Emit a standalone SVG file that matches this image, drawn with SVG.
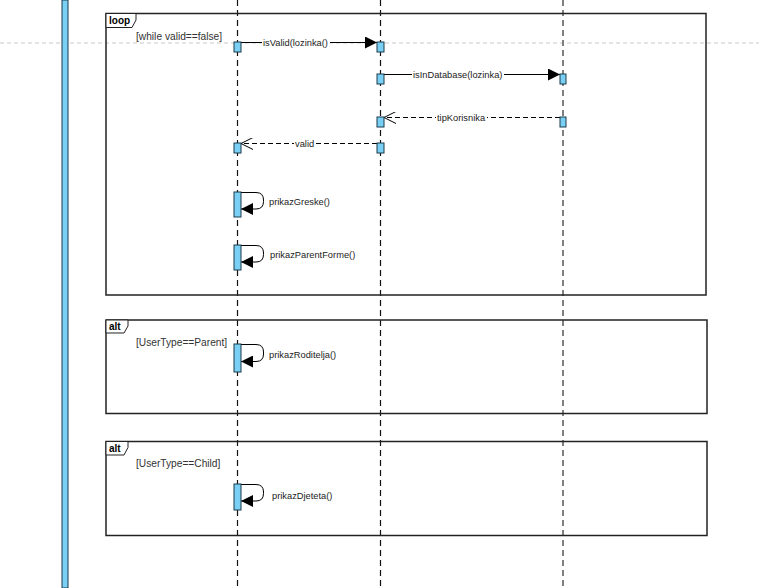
<svg xmlns="http://www.w3.org/2000/svg" width="759" height="588" viewBox="0 0 759 588">
<defs>
<style>
text{font-family:"Liberation Sans",Arial,sans-serif;font-size:9.3px;fill:#222}
.guard{font-size:10.2px;fill:#333}
.frame{fill:none;stroke:#222;stroke-width:1.5}
.tab{fill:#fff;stroke:#222;stroke-width:1}
.tabt{font-weight:bold;font-size:10px;fill:#000}
.act{fill:#7ACFF5;stroke:#1a3a4a;stroke-width:1}
.life{stroke:#111;stroke-width:1.2;stroke-dasharray:6,4;fill:none}
.msg{stroke:#000;stroke-width:1;fill:none}
.ret{stroke:#000;stroke-width:1;fill:none;stroke-dasharray:5,3}
.lbl{fill:#fff}
</style>
<marker id="fa" viewBox="0 0 12 12" refX="12" refY="6" markerWidth="12" markerHeight="12" markerUnits="userSpaceOnUse" orient="auto"><path d="M0,0 L12,6 L0,12 z" fill="#000"/></marker>
<marker id="oa" viewBox="0 0 12 12" refX="12" refY="6" markerWidth="12" markerHeight="12" markerUnits="userSpaceOnUse" orient="auto"><path d="M0,0 L12,6 L0,12" fill="none" stroke="#000" stroke-width="1"/></marker>
</defs>
<rect width="759" height="588" fill="#fff"/>
<line x1="0" y1="43" x2="759" y2="43" stroke="#c8c8c8" stroke-width="1" stroke-dasharray="4,3"/>
<g id="sidebar"><rect x="62" y="0" width="6" height="588" fill="#7ACFF5" stroke="#1a3a4a" stroke-width="1"/></g>
<g id="lifelines">
<line class="life" x1="237.5" y1="0" x2="237.5" y2="588"/>
<line class="life" x1="380.5" y1="0" x2="380.5" y2="588"/>
<line x1="563" y1="0" x2="563" y2="588" stroke="#808080" stroke-width="2" stroke-dasharray="6,4"/>
</g>
<g id="loop">
<rect class="frame" x="106" y="13.5" width="600" height="281.5"/>
<path class="tab" d="M106,13.5 H136 V20 L132,27.5 H106 Z"/>
<text class="tabt" x="109" y="24">loop</text>
<text class="guard" x="136" y="40">[while valid==false]</text>
</g>
<g id="alt1">
<rect class="frame" x="106" y="320" width="601" height="93.5"/>
<path class="tab" d="M106,320 H128 V326 L124,333 H106 Z"/>
<text class="tabt" x="109" y="330">alt</text>
<text class="guard" x="136" y="346">[UserType==Parent]</text>
</g>
<g id="alt2">
<rect class="frame" x="106" y="441.5" width="601" height="94"/>
<path class="tab" d="M106,441.5 H128 V447.5 L124,455 H106 Z"/>
<text class="tabt" x="109" y="452">alt</text>
<text class="guard" x="136" y="467">[UserType==Child]</text>
</g>
<g id="connectors">
<line class="msg" x1="241" y1="42.5" x2="377" y2="42.5" marker-end="url(#fa)"/>
<rect class="lbl" x="262" y="37" width="68" height="10"/>
<text x="263" y="46">isValid(lozinka()</text>
<line class="msg" x1="384" y1="74.5" x2="560" y2="74.5" marker-end="url(#fa)"/>
<rect class="lbl" x="412" y="69" width="92" height="10"/>
<text x="413" y="78">isInDatabase(lozinka)</text>
<line class="ret" x1="560" y1="117.5" x2="384" y2="117.5" marker-end="url(#oa)"/>
<rect class="lbl" x="436" y="112" width="51" height="10"/>
<text x="437" y="121">tipKorisnika</text>
<line class="ret" x1="377" y1="143.5" x2="241" y2="143.5" marker-end="url(#oa)"/>
<rect class="lbl" x="294" y="138" width="22" height="10"/>
<text x="295" y="147">valid</text>
<path class="msg" d="M241,192.5 H256 Q263.5,192.5 263.5,200 V201.5 Q263.5,209 256,209 H241" marker-end="url(#fa)"/>
<text x="269" y="205">prikazGreske()</text>
<path class="msg" d="M241,245.5 H256 Q263.5,245.5 263.5,253 V254.5 Q263.5,262 256,262 H241" marker-end="url(#fa)"/>
<text x="270" y="258">prikazParentForme()</text>
<path class="msg" d="M241,344.5 H256 Q263.5,344.5 263.5,352 V354 Q263.5,361.5 256,361.5 H241" marker-end="url(#fa)"/>
<text x="269" y="358">prikazRoditelja()</text>
<path class="msg" d="M241,484.5 H256 Q263.5,484.5 263.5,492 V493.5 Q263.5,501 256,501 H241" marker-end="url(#fa)"/>
<text x="272" y="499">prikazDjeteta()</text>
</g>
<g id="activations">
<rect class="act" x="234" y="42" width="7" height="10"/>
<rect class="act" x="377" y="42" width="7" height="10"/>
<rect class="act" x="377" y="74" width="7" height="10"/>
<rect class="act" x="560" y="74" width="6" height="10"/>
<rect class="act" x="377" y="117" width="7" height="10"/>
<rect class="act" x="560" y="117" width="6" height="10"/>
<rect class="act" x="234" y="143" width="7" height="10"/>
<rect class="act" x="377" y="143" width="7" height="10"/>
<rect class="act" x="234" y="192" width="7" height="25"/>
<rect class="act" x="234" y="245" width="7" height="25"/>
<rect class="act" x="234" y="344" width="7" height="28"/>
<rect class="act" x="234" y="484" width="7" height="26"/>
</g>
</svg>
